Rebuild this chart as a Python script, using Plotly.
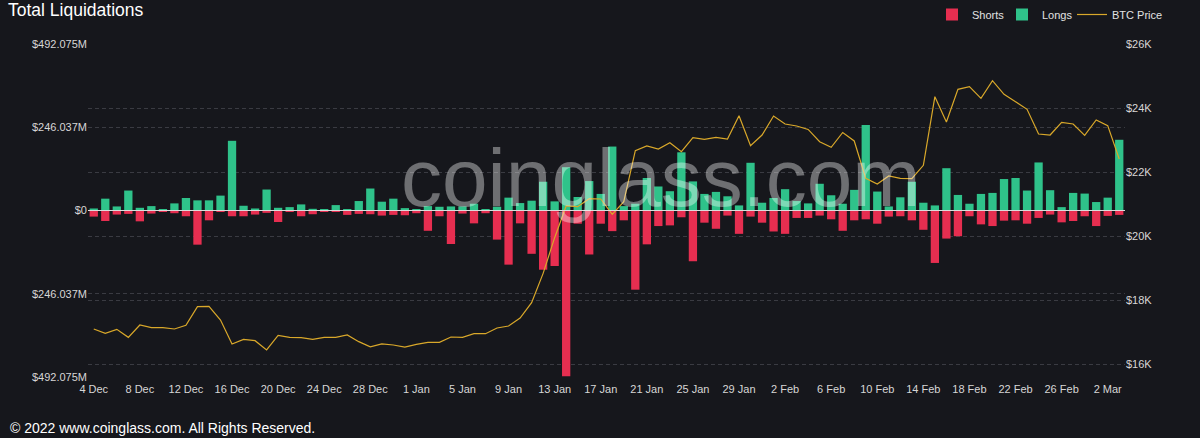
import pandas as pd
import plotly.graph_objects as go

# ---- data ----
dates = pd.date_range("2022-12-04", periods=90, freq="D")

longs_m = [6, 35, 12, 59, 8, 13, 3, 21, 37, 30, 30, 44, 206, 14, 6, 62, 8, 10, 18, 5,
           3, 16, 2, 28, 65, 26, 35, 7, 4, 13, 11, 12, 12, 20, 4, 11, 38, 22, 29, 85,
           27, 128, 40, 87, 49, 189, 13, 20, 96, 71, 57, 172, 86, 49, 55, 42, 15, 141, 23, 37,
           63, 28, 21, 79, 45, 20, 61, 253, 56, 12, 39, 85, 23, 15, 125, 46, 20, 49, 52, 93,
           96, 59, 142, 60, 10, 52, 50, 25, 38, 209]

shorts_m = [18, 31, 12, 10, 32, 9, 3, 8, 17, 101, 29, 2, 17, 17, 12, 7, 34, 3, 17, 11,
            2, 4, 13, 10, 11, 15, 13, 14, 8, 60, 17, 99, 9, 38, 8, 86, 160, 38, 128, 175,
            164, 490, 39, 130, 39, 61, 29, 234, 100, 46, 44, 20, 150, 36, 54, 15, 69, 18, 36, 62,
            69, 22, 22, 15, 26, 60, 29, 26, 39, 18, 17, 29, 57, 155, 83, 76, 17, 41, 46, 30,
            29, 39, 22, 12, 35, 31, 17, 46, 16, 13]

btc_price = [17094, 16958, 17084, 16833, 17219, 17135, 17135, 17094, 17208, 17792,
             17802, 17375, 16625, 16771, 16729, 16438, 16896, 16833, 16823, 16771,
             16833, 16833, 16910, 16698, 16535, 16630, 16594, 16531, 16615, 16677,
             16677, 16844, 16833, 16948, 16948, 17125, 17188, 17438, 17917, 18833,
             19948, 20938, 20917, 21167, 21156, 20677, 21073, 22667, 22813, 22719,
             22917, 22635, 23073, 23021, 23083, 23031, 23755, 22823, 23156, 23750,
             23500, 23438, 23330, 22948, 22771, 23235, 22969, 21802, 21625, 21875,
             21802, 21792, 22208, 24354, 23563, 24583, 24667, 24302, 24854, 24427,
             24198, 23958, 23188, 23156, 23552, 23500, 23146, 23625, 23448, 22406]

x_tick_labels = ["4 Dec", "8 Dec", "12 Dec", "16 Dec", "20 Dec", "24 Dec", "28 Dec",
                 "1 Jan", "5 Jan", "9 Jan", "13 Jan", "17 Jan", "21 Jan", "25 Jan",
                 "29 Jan", "2 Feb", "6 Feb", "10 Feb", "14 Feb", "18 Feb", "22 Feb",
                 "26 Feb", "2 Mar"]

left_tick_vals = [-492.075, -246.0375, 0, 246.0375, 492.075]
left_tick_text = ["$492.075M", "$246.037M", "$0", "$246.037M", "$492.075M"]
right_tick_vals = [16000, 18000, 20000, 22000, 24000, 26000]
right_tick_text = ["$16K", "$18K", "$20K", "$22K", "$24K", "$26K"]

# ---- style ----
BG = "#16171c"
RED = "#e62e50"
GREEN = "#2fc28a"
GOLD = "#d9a82a"
GRID = "#3a3b42"
TXT = "#d6d6d6"
FONT = "Liberation Sans, Arial, Helvetica, sans-serif"

fig = go.Figure()
fig.add_trace(go.Bar(x=dates, y=[-v for v in shorts_m], name="Shorts", legendwidth=25,
                     marker=dict(color=RED, line=dict(width=0))))
fig.add_trace(go.Bar(x=dates, y=longs_m, name="Longs", legendwidth=25,
                     marker=dict(color=GREEN, line=dict(width=0))))
fig.add_trace(go.Scatter(x=dates, y=btc_price, name="BTC Price", yaxis="y2", legendwidth=60,
                         mode="lines", line=dict(color=GOLD, width=1.2)))

half_day = pd.Timedelta(hours=12)
fig.update_layout(
    width=1200, height=438,
    margin=dict(l=88, r=75, t=44, b=61, autoexpand=False),
    paper_bgcolor=BG, plot_bgcolor=BG,
    barmode="relative", bargap=0.28,
    font=dict(family=FONT, size=11, color=TXT),
    title=dict(text="Total Liquidations", x=8 / 1200, xanchor="left", xref="container",
               y=1 - 10 / 438, yref="container", yanchor="middle",
               font=dict(size=17.5, color="#ffffff", family=FONT)),
    legend=dict(orientation="h", xref="container", yref="container",
                x=932 / 1200, xanchor="left", y=1, yanchor="top",
                entrywidthmode="pixels",
                bgcolor="rgba(0,0,0,0)", font=dict(size=11, color="#e2e2e2")),
    xaxis=dict(type="date", range=[dates[0] - half_day, dates[-1] + half_day],
               tickvals=list(dates[::4]), ticktext=x_tick_labels,
               showgrid=False, zeroline=False, showline=False, ticks="",
               ticklabelstandoff=4,
               tickfont=dict(size=11, color=TXT)),
    yaxis=dict(range=[-492.075, 492.075], tickvals=left_tick_vals, ticktext=left_tick_text,
               showgrid=True, gridcolor=GRID, griddash="4px,3px", gridwidth=1,
               zeroline=False, showline=False, ticks="",
               tickfont=dict(size=11, color=TXT)),
    yaxis2=dict(overlaying="y", side="right", range=[15594, 26000],
                tickvals=right_tick_vals, ticktext=right_tick_text,
                showgrid=True, gridcolor=GRID, griddash="4px,3px", gridwidth=1,
                zeroline=False, showline=False, ticks="",
                tickfont=dict(size=11, color=TXT)),
    shapes=[dict(type="line", xref="paper", x0=0, x1=1, yref="y", y0=0, y1=0,
                 line=dict(color="#dcdcdc", width=1), layer="above")],
    annotations=[
        dict(text="coinglass.com", xref="paper", yref="paper", x=0.553, y=0.598,
             xanchor="center", yanchor="middle", showarrow=False,
             font=dict(size=82, color="rgba(255,255,255,0.38)", family=FONT)),
        dict(text="© 2022 www.coinglass.com. All Rights Reserved.", xref="paper", yref="paper",
             x=(8 - 88) / 1037, y=(377 - 428) / 333, xanchor="left", yanchor="middle",
             showarrow=False, font=dict(size=14, color="#ffffff", family=FONT)),
    ],
)

fig.write_html("out.html", config={"displayModeBar": False},
               post_script="document.body.style.margin='0';")
